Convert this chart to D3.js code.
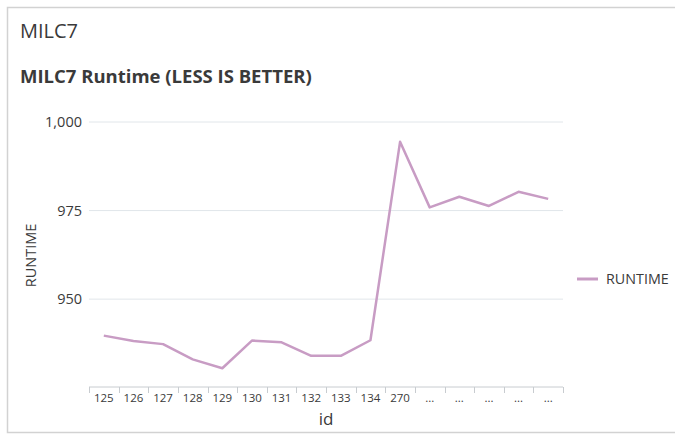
<!DOCTYPE html>
<html>
<head>
<meta charset="utf-8">
<script src="https://cdn.jsdelivr.net/npm/d3@7"></script>
<style>
  html, body { margin: 0; padding: 0; background: #fff; }
  svg { display: block; font-family: "Open Sans", Lato, sans-serif; }
</style>
</head>
<body>
<svg id="chart" width="675" height="435"></svg>
<script>
// Run identifiers along the x axis (later runs are shown as "...")
const categories = ["125", "126", "127", "128", "129", "130", "131", "132", "133", "134", "270", "...", "...", "...", "...", "..."];
// MILC7 runtime for each run
const runtime = [939.7, 938.2, 937.3, 933.0, 930.5, 938.3, 937.8, 934.0, 934.0, 938.4, 994.4, 975.9, 978.9, 976.3, 980.3, 978.3];
const yTicks = [950, 975, 1000];
const seriesName = "RUNTIME";

const svg = d3.select("#chart");
const lineColor = "#c89cc4";
const textColor = "#3a3a3a";
const fontFamily = "'Open Sans', Lato, sans-serif";

// Panel frame
svg.append("rect")
  .attr("x", 7.5).attr("y", 7.5)
  .attr("width", 700).attr("height", 425)
  .attr("fill", "#fff")
  .attr("stroke", "#d2d2d2").attr("stroke-width", 1.5);

svg.append("text")
  .attr("x", 20).attr("y", 38)
  .attr("font-size", 20).attr("fill", textColor)
  .text("MILC7");

svg.append("text")
  .attr("x", 20).attr("y", 83)
  .attr("font-size", 18.5).attr("font-weight", "bold").attr("fill", textColor)
  .text("MILC7 Runtime (LESS IS BETTER)");

const plot = { left: 89, right: 563, top: 122, bottom: 387 };

const x = d3.scaleBand()
  .domain(d3.range(categories.length))
  .range([plot.left, plot.right])
  .padding(0);

const y = d3.scaleLinear()
  .domain([925.2, 1000])
  .range([plot.bottom, plot.top]);

// Horizontal gridlines
svg.append("g")
  .selectAll("line")
  .data(yTicks)
  .join("line")
  .attr("x1", plot.left).attr("x2", plot.right)
  .attr("y1", d => y(d)).attr("y2", d => y(d))
  .attr("stroke", "#e1e6ea").attr("stroke-width", 1);

// Y axis labels
const yAxis = svg.append("g")
  .attr("transform", `translate(${plot.left},0)`)
  .call(d3.axisLeft(y).tickValues(yTicks).tickFormat(d3.format(",")).tickSize(0).tickPadding(7));
yAxis.select(".domain").remove();
yAxis.selectAll("text")
  .attr("font-size", 14.5).attr("fill", textColor)
  .attr("font-family", fontFamily);

svg.append("text")
  .attr("transform", `translate(36,${(plot.top + plot.bottom) / 2 + 1}) rotate(-90)`)
  .attr("text-anchor", "middle")
  .attr("font-size", 14.5).attr("fill", textColor)
  .text("RUNTIME");

// X axis: line, boundary ticks, category labels
const xg = svg.append("g").attr("transform", `translate(0,${plot.bottom})`);
xg.append("line")
  .attr("x1", plot.left).attr("x2", plot.right)
  .attr("stroke", "#c8ccd0").attr("stroke-width", 1);
const bounds = d3.range(categories.length + 1).map(i => i < categories.length ? x(i) : x(i - 1) + x.bandwidth());
xg.selectAll("line.tick")
  .data(bounds)
  .join("line")
  .attr("class", "tick")
  .attr("x1", d => Math.round(d) + 0.5).attr("x2", d => Math.round(d) + 0.5)
  .attr("y1", 0).attr("y2", 6)
  .attr("stroke", "#c8ccd0");
xg.selectAll("text.lbl")
  .data(categories)
  .join("text")
  .attr("class", "lbl")
  .attr("x", (d, i) => x(i) + x.bandwidth() / 2)
  .attr("y", 15)
  .attr("text-anchor", "middle")
  .attr("font-size", 11.5).attr("fill", textColor)
  .text(d => d);

svg.append("text")
  .attr("x", (plot.left + plot.right) / 2).attr("y", 425)
  .attr("text-anchor", "middle")
  .attr("font-size", 17).attr("fill", textColor)
  .text("id");

// Series line
const line = d3.line()
  .x((d, i) => x(i) + x.bandwidth() / 2)
  .y(d => y(d));

svg.append("path")
  .datum(runtime)
  .attr("d", line)
  .attr("fill", "none")
  .attr("stroke", lineColor)
  .attr("stroke-width", 2.5)
  .attr("stroke-linejoin", "round");

// Legend
const lg = svg.append("g").attr("transform", "translate(577,279)");
lg.append("line").attr("x1", 0).attr("x2", 21)
  .attr("stroke", lineColor).attr("stroke-width", 3);
lg.append("text").attr("x", 29).attr("y", 5)
  .attr("font-size", 14.3).attr("fill", textColor)
  .text(seriesName);
</script>
</body>
</html>
